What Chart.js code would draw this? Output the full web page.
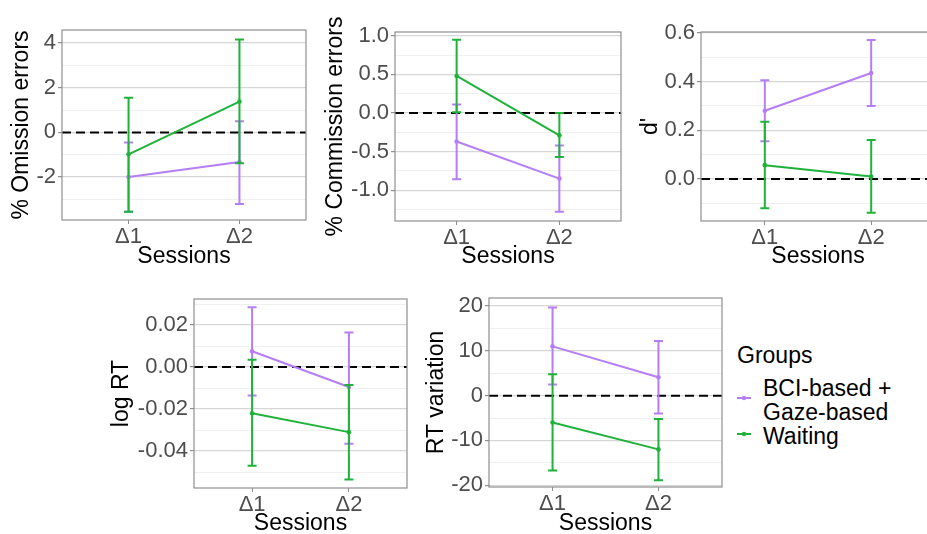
<!DOCTYPE html>
<html>
<head>
<meta charset="utf-8">
<script src="https://cdn.jsdelivr.net/npm/chart.js@4.4.1/dist/chart.umd.min.js"></script>
<style>
  body { margin: 0; width: 927px; height: 534px; overflow: hidden; background: #fff; position: relative;
         font-family: "Liberation Sans", Arial, sans-serif; }
  canvas { position: absolute; }
  .lg { position: absolute; font-size: 23px; line-height: 24px; color: #000; white-space: nowrap; }
  .key { position: absolute; }
</style>
</head>
<body>
<div class="lg" style="left:737px; top:343px;">Groups</div>
<svg class="key" style="left:735px; top:392px;" width="18" height="12">
  <line x1="2" y1="6" x2="16" y2="6" stroke="#b57ef6" stroke-width="2"/><circle cx="9" cy="6" r="2.2" fill="#b57ef6"/>
</svg>
<div class="lg" style="left:763px; top:376px;">BCI-based +<br>Gaze-based</div>
<svg class="key" style="left:735px; top:428px;" width="18" height="12">
  <line x1="2" y1="6" x2="16" y2="6" stroke="#1fb23b" stroke-width="2"/><circle cx="9" cy="6" r="2.2" fill="#1fb23b"/>
</svg>
<div class="lg" style="left:763px; top:424px;">Waiting</div>

<script>
// sessions on the x axis
const sessions = ['Δ1', 'Δ2'];
const sessionX = [1, 2];
const purple = '#b57ef6', green = '#1fb23b';

// % Omission errors
const omBci = [-2.0, -1.33], omBciLo = [-3.55, -3.2], omBciHi = [-0.45, 0.5];
const omWait = [-0.98, 1.38], omWaitLo = [-3.55, -1.38], omWaitHi = [1.55, 4.15];
const omTicks = [-2, 0, 2, 4], omLabels = ['-2', '0', '2', '4'], omMinor = [-3, -1, 1, 3];

// % Commission errors
const coBci = [-0.37, -0.85], coBciLo = [-0.86, -1.28], coBciHi = [0.11, -0.42];
const coWait = [0.48, -0.29], coWaitLo = [0.01, -0.57], coWaitHi = [0.95, 0.0];
const coTicks = [-1, -0.5, 0, 0.5, 1], coLabels = ['-1.0', '-0.5', '0.0', '0.5', '1.0'];
const coMinor = [-1.25, -0.75, -0.25, 0.25, 0.75];

// d'
const dBci = [0.28, 0.435], dBciLo = [0.155, 0.30], dBciHi = [0.405, 0.57];
const dWait = [0.057, 0.01], dWaitLo = [-0.12, -0.138], dWaitHi = [0.235, 0.16];
const dTicks = [0, 0.2, 0.4, 0.6], dLabels = ['0.0', '0.2', '0.4', '0.6'], dMinor = [-0.1, 0.1, 0.3, 0.5];

// log RT
const rtBci = [0.0075, -0.0095], rtBciLo = [-0.0135, -0.0365], rtBciHi = [0.0285, 0.0165];
const rtWait = [-0.022, -0.031], rtWaitLo = [-0.047, -0.0535], rtWaitHi = [0.0035, -0.0085];
const rtTicks = [-0.04, -0.02, 0, 0.02], rtLabels = ['-0.04', '-0.02', '0.00', '0.02'];
const rtMinor = [-0.05, -0.03, -0.01, 0.01, 0.03];

// RT variation
const rvBci = [11, 4.1], rvBciLo = [2.5, -4.0], rvBciHi = [19.7, 12.2];
const rvWait = [-6.0, -12.0], rvWaitLo = [-16.7, -18.9], rvWaitHi = [4.8, -5.2];
const rvTicks = [-20, -10, 0, 10, 20], rvLabels = ['-20', '-10', '0', '10', '20'], rvMinor = [-15, -5, 5, 15];

// layout of the five panels (plot box: left, top, right, bottom)
const panels = [
  { title: '% Omission errors', bci: [omBci, omBciLo, omBciHi], wait: [omWait, omWaitLo, omWaitHi],
    ticks: omTicks, labels: omLabels, minor: omMinor, yMin: -3.92, yMax: 4.58,
    box: [62, 30, 306, 220], yTitleX: 22, xTitleY: 257 },
  { title: '% Commission errors', bci: [coBci, coBciLo, coBciHi], wait: [coWait, coWaitLo, coWaitHi],
    ticks: coTicks, labels: coLabels, minor: coMinor, yMin: -1.40, yMax: 1.05,
    box: [395, 32, 621, 221], yTitleX: 336, xTitleY: 257 },
  { title: "d'", bci: [dBci, dBciLo, dBciHi], wait: [dWait, dWaitLo, dWaitHi],
    ticks: dTicks, labels: dLabels, minor: dMinor, yMin: -0.172, yMax: 0.603,
    box: [701, 32, 935, 221], yTitleX: 651, xTitleY: 257 },
  { title: 'log RT', bci: [rtBci, rtBciLo, rtBciHi], wait: [rtWait, rtWaitLo, rtWaitHi],
    ticks: rtTicks, labels: rtLabels, minor: rtMinor, yMin: -0.0576, yMax: 0.0324,
    box: [194, 299, 407, 488], yTitleX: 122, xTitleY: 524 },
  { title: 'RT variation', bci: [rvBci, rvBciLo, rvBciHi], wait: [rvWait, rvWaitLo, rvWaitHi],
    ticks: rvTicks, labels: rvLabels, minor: rvMinor, yMin: -20.4, yMax: 21.8,
    box: [489, 298, 722, 487], yTitleX: 437, xTitleY: 524 }
];

const tickFont = { family: '"Liberation Sans", Arial, sans-serif', size: 22 };
const titleFont = { family: '"Liberation Sans", Arial, sans-serif', size: 23 };
const frameGrey = '#8f8f8f';

// error bars + panel frame
const errorBars = {
  id: 'errorBars',
  afterDatasetDraw(chart, args) {
    const ds = chart.data.datasets[args.index];
    if (!ds.errLo) return;
    const xs = chart.scales.x, ys = chart.scales.y, c = chart.ctx;
    c.save();
    c.strokeStyle = ds.borderColor;
    c.lineWidth = 2;
    ds.data.forEach((d, i) => {
      const px = xs.getPixelForValue(d.x);
      const lo = ys.getPixelForValue(ds.errLo[i]);
      const hi = ys.getPixelForValue(ds.errHi[i]);
      c.beginPath();
      c.moveTo(px, lo); c.lineTo(px, hi);
      c.moveTo(px - 4.5, lo); c.lineTo(px + 4.5, lo);
      c.moveTo(px - 4.5, hi); c.lineTo(px + 4.5, hi);
      c.stroke();
    });
    c.restore();
  },
  afterDraw(chart) {
    const a = chart.chartArea, c = chart.ctx;
    c.save();
    c.strokeStyle = frameGrey;
    c.lineWidth = 1.2;
    c.strokeRect(a.left, a.top, a.right - a.left, a.bottom - a.top);
    c.restore();
  }
};

function series(vals, color, order) {
  return {
    data: sessionX.map((x, i) => ({ x: x, y: vals[0][i] })),
    errLo: vals[1], errHi: vals[2],
    borderColor: color, backgroundColor: color, borderWidth: 2,
    pointRadius: 2.3, pointBorderWidth: 0, order: order
  };
}

function makePanel(p) {
  const [left, top, right, bottom] = p.box;
  const cx = p.yTitleX - 20, cy = top - 16;
  const cw = right + 12 - cx, ch = p.xTitleY + 16 - cy;
  const cv = document.createElement('canvas');
  cv.width = cw; cv.height = ch;
  cv.style.left = cx + 'px'; cv.style.top = cy + 'px';
  cv.style.width = cw + 'px'; cv.style.height = ch + 'px';
  document.body.appendChild(cv);

  const allTicks = p.ticks.concat(p.minor).sort((a, b) => a - b);
  const isMajor = v => p.ticks.indexOf(v) >= 0;

  new Chart(cv, {
    type: 'line',
    data: {
      datasets: [
        { data: [{ x: 0.4, y: 0 }, { x: 2.6, y: 0 }], borderColor: '#000', borderWidth: 2,
          borderDash: [9, 5], pointRadius: 0, order: 3 },
        series(p.bci, purple, 2),
        series(p.wait, green, 1)
      ]
    },
    options: {
      responsive: false,
      animation: false,
      layout: { padding: { left: 0, top: 16, right: 12, bottom: 0 } },
      plugins: { legend: { display: false }, tooltip: { enabled: false } },
      scales: {
        x: {
          type: 'linear', min: 0.4, max: 2.6,
          afterBuildTicks: s => { s.ticks = sessionX.map(v => ({ value: v })); },
          afterFit: s => { s.height = cy + ch - bottom; },
          ticks: { callback: v => sessions[sessionX.indexOf(v)], autoSkip: false, maxRotation: 0,
                   padding: 0, color: '#4d4d4d', font: tickFont },
          grid: { drawOnChartArea: false, tickLength: 4, tickColor: frameGrey },
          border: { display: false },
          title: { display: true, text: 'Sessions', color: '#000', font: titleFont,
                   padding: { top: 0, bottom: 2.2 } }
        },
        y: {
          min: p.yMin, max: p.yMax,
          afterBuildTicks: s => { s.ticks = allTicks.map(v => ({ value: v })); },
          afterFit: s => { s.width = left - cx; },
          ticks: { callback: v => isMajor(v) ? p.labels[p.ticks.indexOf(v)] : '', autoSkip: false,
                   padding: 2, color: '#4d4d4d', font: tickFont },
          grid: {
            color: c => isMajor(c.tick.value) ? '#d6d6d6' : '#ebebeb',
            lineWidth: c => isMajor(c.tick.value) ? 1.2 : 0.8,
            tickColor: c => isMajor(c.tick.value) ? frameGrey : 'rgba(0,0,0,0)',
            tickLength: 4
          },
          border: { display: false },
          title: { display: true, text: p.title, color: '#000', font: titleFont,
                   padding: { top: 6.2, bottom: 0 } }
        }
      }
    },
    plugins: [errorBars]
  });
}

panels.forEach(makePanel);
</script>
</body>
</html>
